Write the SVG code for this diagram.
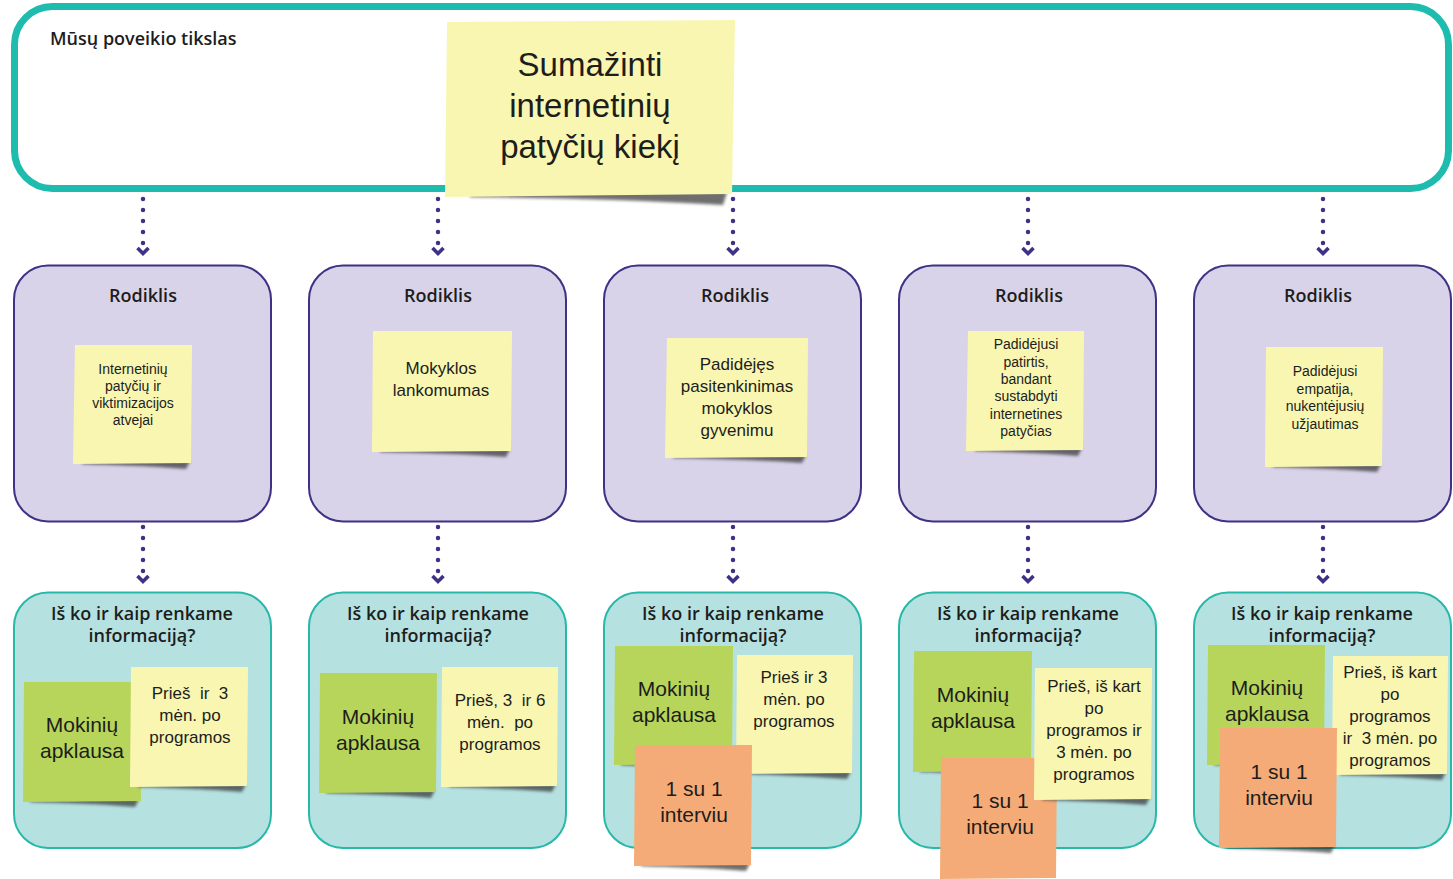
<svg xmlns="http://www.w3.org/2000/svg" width="1453" height="879" viewBox="0 0 1453 879">
<defs>
<style>
.hdr{font-family:'Open Sans','Noto Sans',sans-serif;font-weight:600;font-size:18px;fill:#1d1d1b;text-anchor:middle}
.lbl{font-family:'Open Sans','Noto Sans',sans-serif;font-weight:600;font-size:18px;fill:#1d1d1b}
.nt{font-family:'Liberation Sans',Arial,sans-serif;fill:#1d1d1b;text-anchor:middle}
.s14{font-size:14px}.s17{font-size:17px}.s21{font-size:21px}.s33{font-size:33px}
.ind{fill:#d8d3e8;stroke:#3f3185;stroke-width:2}
.col{fill:#b6e1e1;stroke:#26b8a8;stroke-width:2}
.yel{fill:#f9f6b2}.grn{fill:#b7d55b}.org{fill:#f4ab78}
.shd{fill:#333;opacity:.7;filter:url(#blur)}
.dot{stroke:#3f3185;stroke-width:4.5;stroke-linecap:round;stroke-dasharray:0 11;fill:none;marker-end:url(#chev)}
</style>
<filter id="blur" x="-10%" y="-100%" width="120%" height="300%"><feGaussianBlur stdDeviation="1.6"/></filter>
<marker id="chev" markerUnits="userSpaceOnUse" markerWidth="20" markerHeight="20" viewBox="0 0 20 20" refX="10" refY="0" orient="0" overflow="visible">
<path d="M4.5,5 L10,10.5 L15.5,5" fill="none" stroke="#3f3185" stroke-width="3.6" stroke-linejoin="miter"/>
</marker>
</defs>
<rect width="1453" height="879" fill="#fff"/>

<g id="goal">
<rect x="14.5" y="6.5" width="1434" height="182" rx="38" fill="#fff" stroke="#1dbcae" stroke-width="7"/>
<text class="lbl" x="50" y="45">Mūsų poveikio tikslas</text>
</g>

<g id="goal-note">
<path class="shd" d="M470,193 L728,189 L723,205 C640,200 560,198 470,197 Z"/>
<polygon class="yel" points="447,22 735,20 732,194 445,197"/>
<text class="nt s33" x="590" y="76">Sumažinti</text>
<text class="nt s33" x="590" y="117">internetinių</text>
<text class="nt s33" x="590" y="158">patyčių kiekį</text>
</g>

<g id="connectors">
<line class="dot" x1="143" y1="199" x2="143" y2="243.01"/>
<line class="dot" x1="438" y1="199" x2="438" y2="243.01"/>
<line class="dot" x1="733" y1="199" x2="733" y2="243.01"/>
<line class="dot" x1="1028" y1="199" x2="1028" y2="243.01"/>
<line class="dot" x1="1323" y1="199" x2="1323" y2="243.01"/>
<line class="dot" x1="143" y1="527" x2="143" y2="571.01"/>
<line class="dot" x1="438" y1="527" x2="438" y2="571.01"/>
<line class="dot" x1="733" y1="527" x2="733" y2="571.01"/>
<line class="dot" x1="1028" y1="527" x2="1028" y2="571.01"/>
<line class="dot" x1="1323" y1="527" x2="1323" y2="571.01"/>
</g>

<g id="ind1">
<rect class="ind" x="14" y="265.5" width="257" height="256" rx="34"/>
<text class="hdr" x="143" y="302">Rodiklis</text>
<path class="shd" d="M82,461 L190,461 L186,469 C150,466 110,465 82,464 Z"/>
<polygon class="yel" points="75,345 192,345 191,463 73,464"/>
<text class="nt s14"><tspan x="133" y="374">Internetinių</tspan><tspan x="133" y="391">patyčių ir</tspan><tspan x="133" y="408">viktimizacijos</tspan><tspan x="133" y="425">atvejai</tspan></text>
</g>

<g id="ind2">
<rect class="ind" x="309" y="265.5" width="257" height="256" rx="34"/>
<text class="hdr" x="438" y="302">Rodiklis</text>
<path class="shd" d="M380,449 L510,449 L506,457 C465,454 420,453 380,452 Z"/>
<polygon class="yel" points="373,331 512,331 511,451 372,452"/>
<text class="nt s17"><tspan x="441" y="374">Mokyklos</tspan><tspan x="441" y="396">lankomumas</tspan></text>
</g>

<g id="ind3">
<rect class="ind" x="604" y="265.5" width="257" height="256" rx="34"/>
<text class="hdr" x="735" y="302">Rodiklis</text>
<path class="shd" d="M673,455 L806,455 L802,463 C760,460 715,459 673,458 Z"/>
<polygon class="yel" points="667,338 808,338 807,457 665,458"/>
<text class="nt s17"><tspan x="737" y="370">Padidėjęs</tspan><tspan x="737" y="392">pasitenkinimas</tspan><tspan x="737" y="414">mokyklos</tspan><tspan x="737" y="436">gyvenimu</tspan></text>
</g>

<g id="ind4">
<rect class="ind" x="899" y="265.5" width="257" height="256" rx="34"/>
<text class="hdr" x="1029" y="302">Rodiklis</text>
<path class="shd" d="M975,448 L1082,448 L1078,456 C1045,453 1005,452 975,451 Z"/>
<polygon class="yel" points="968,331 1084,331 1083,450 966,451"/>
<text class="nt s14"><tspan x="1026" y="349">Padidėjusi</tspan><tspan x="1026" y="367">patirtis,</tspan><tspan x="1026" y="384">bandant</tspan><tspan x="1026" y="401">sustabdyti</tspan><tspan x="1026" y="419">internetines</tspan><tspan x="1026" y="436">patyčias</tspan></text>
</g>

<g id="ind5">
<rect class="ind" x="1194" y="265.5" width="257" height="256" rx="34"/>
<text class="hdr" x="1318" y="302">Rodiklis</text>
<path class="shd" d="M1273,464 L1381,464 L1377,472 C1340,469 1300,468 1273,467 Z"/>
<polygon class="yel" points="1266,347 1383,347 1382,466 1265,467"/>
<text class="nt s14"><tspan x="1325" y="376">Padidėjusi</tspan><tspan x="1325" y="394">empatija,</tspan><tspan x="1325" y="411">nukentėjusių</tspan><tspan x="1325" y="429">užjautimas</tspan></text>
</g>

<g id="col1">
<rect class="col" x="14" y="592.5" width="257" height="255.5" rx="34"/>
<text class="hdr"><tspan x="142" y="620">Iš ko ir kaip renkame</tspan><tspan x="142" y="642">informaciją?</tspan></text>
<path class="shd" d="M30,799 L139,799 L135,807 C100,804 60,803 30,802 Z"/>
<polygon class="grn" points="24,682 141,682 141,801 23,802"/>
<text class="nt s21"><tspan x="82" y="732">Mokinių</tspan><tspan x="82" y="758">apklausa</tspan></text>
<path class="shd" d="M138,784 L246,784 L242,792 C205,789 165,788 138,787 Z"/>
<polygon class="yel" points="131,667 248,667 247,786 130,787"/>
<text class="nt s17"><tspan x="190" y="699">Prieš&#160; ir&#160; 3</tspan><tspan x="190" y="721">mėn. po</tspan><tspan x="190" y="743">programos</tspan></text>
</g>

<g id="col2">
<rect class="col" x="309" y="592.5" width="257" height="255.5" rx="34"/>
<text class="hdr"><tspan x="438" y="620">Iš ko ir kaip renkame</tspan><tspan x="438" y="642">informaciją?</tspan></text>
<path class="shd" d="M326,790 L435,790 L431,798 C395,795 355,794 326,793 Z"/>
<polygon class="grn" points="320,673 437,673 436,792 319,793"/>
<text class="nt s21"><tspan x="378" y="724">Mokinių</tspan><tspan x="378" y="750">apklausa</tspan></text>
<path class="shd" d="M449,784 L556,784 L552,792 C515,789 478,788 449,787 Z"/>
<polygon class="yel" points="442,667 558,667 557,786 441,787"/>
<text class="nt s17"><tspan x="500" y="706">Prieš, 3&#160; ir 6</tspan><tspan x="500" y="728">mėn.&#160; po</tspan><tspan x="500" y="750">programos</tspan></text>
</g>

<g id="col3">
<rect class="col" x="604" y="592.5" width="257" height="255.5" rx="34"/>
<text class="hdr"><tspan x="733" y="620">Iš ko ir kaip renkame</tspan><tspan x="733" y="642">informaciją?</tspan></text>
<path class="shd" d="M621,762 L731,762 L727,770 C690,767 650,766 621,765 Z"/>
<polygon class="grn" points="615,646 733,646 732,764 614,765"/>
<text class="nt s21"><tspan x="674" y="696">Mokinių</tspan><tspan x="674" y="722">apklausa</tspan></text>
<path class="shd" d="M744,771 L851,771 L847,779 C810,776 772,775 744,774 Z"/>
<polygon class="yel" points="737,655 853,655 852,773 736,774"/>
<text class="nt s17"><tspan x="794" y="683">Prieš ir 3</tspan><tspan x="794" y="705">mėn. po</tspan><tspan x="794" y="727">programos</tspan></text>
<path class="shd" d="M641,863 L750,863 L746,871 C710,868 670,867 641,866 Z"/>
<polygon class="org" points="635,745 752,745 751,865 634,866"/>
<text class="nt s21"><tspan x="694" y="796">1 su 1</tspan><tspan x="694" y="822">interviu</tspan></text>
</g>

<g id="col4">
<rect class="col" x="899" y="592.5" width="257" height="255.5" rx="34"/>
<text class="hdr"><tspan x="1028" y="620">Iš ko ir kaip renkame</tspan><tspan x="1028" y="642">informaciją?</tspan></text>
<path class="shd" d="M920,769 L1030,769 L1026,777 C990,774 950,773 920,772 Z"/>
<polygon class="grn" points="914,651 1032,651 1031,771 913,772"/>
<text class="nt s21"><tspan x="973" y="702">Mokinių</tspan><tspan x="973" y="728">apklausa</tspan></text>
<polygon class="org" points="941,758 1057,758 1056,878 940,879"/>
<text class="nt s21"><tspan x="1000" y="808">1 su 1</tspan><tspan x="1000" y="834">interviu</tspan></text>
<path class="shd" d="M1042,797 L1150,797 L1146,805 C1110,802 1070,801 1042,800 Z"/>
<polygon class="yel" points="1035,668 1152,668 1151,799 1034,800"/>
<text class="nt s17"><tspan x="1094" y="692">Prieš, iš kart</tspan><tspan x="1094" y="714">po</tspan><tspan x="1094" y="736">programos ir</tspan><tspan x="1094" y="758">3 mėn. po</tspan><tspan x="1094" y="780">programos</tspan></text>
</g>

<g id="col5">
<rect class="col" x="1194" y="592.5" width="257" height="255.5" rx="34"/>
<text class="hdr"><tspan x="1322" y="620">Iš ko ir kaip renkame</tspan><tspan x="1322" y="642">informaciją?</tspan></text>
<path class="shd" d="M1214,762 L1323,762 L1319,770 C1283,767 1243,766 1214,765 Z"/>
<polygon class="grn" points="1208,645 1325,645 1324,764 1207,765"/>
<text class="nt s21"><tspan x="1267" y="695">Mokinių</tspan><tspan x="1267" y="721">apklausa</tspan></text>
<path class="shd" d="M1340,772 L1446,772 L1442,780 C1405,777 1368,776 1340,775 Z"/>
<polygon class="yel" points="1333,656 1448,656 1447,774 1332,775"/>
<text class="nt s17"><tspan x="1390" y="678">Prieš, iš kart</tspan><tspan x="1390" y="700">po</tspan><tspan x="1390" y="722">programos</tspan><tspan x="1390" y="744">ir&#160; 3 mėn. po</tspan><tspan x="1390" y="766">programos</tspan></text>
<path class="shd" d="M1226,845 L1335,845 L1331,853 C1295,850 1255,849 1226,848 Z"/>
<polygon class="org" points="1220,728 1337,728 1336,847 1219,848"/>
<text class="nt s21"><tspan x="1279" y="779">1 su 1</tspan><tspan x="1279" y="805">interviu</tspan></text>
</g>
</svg>
